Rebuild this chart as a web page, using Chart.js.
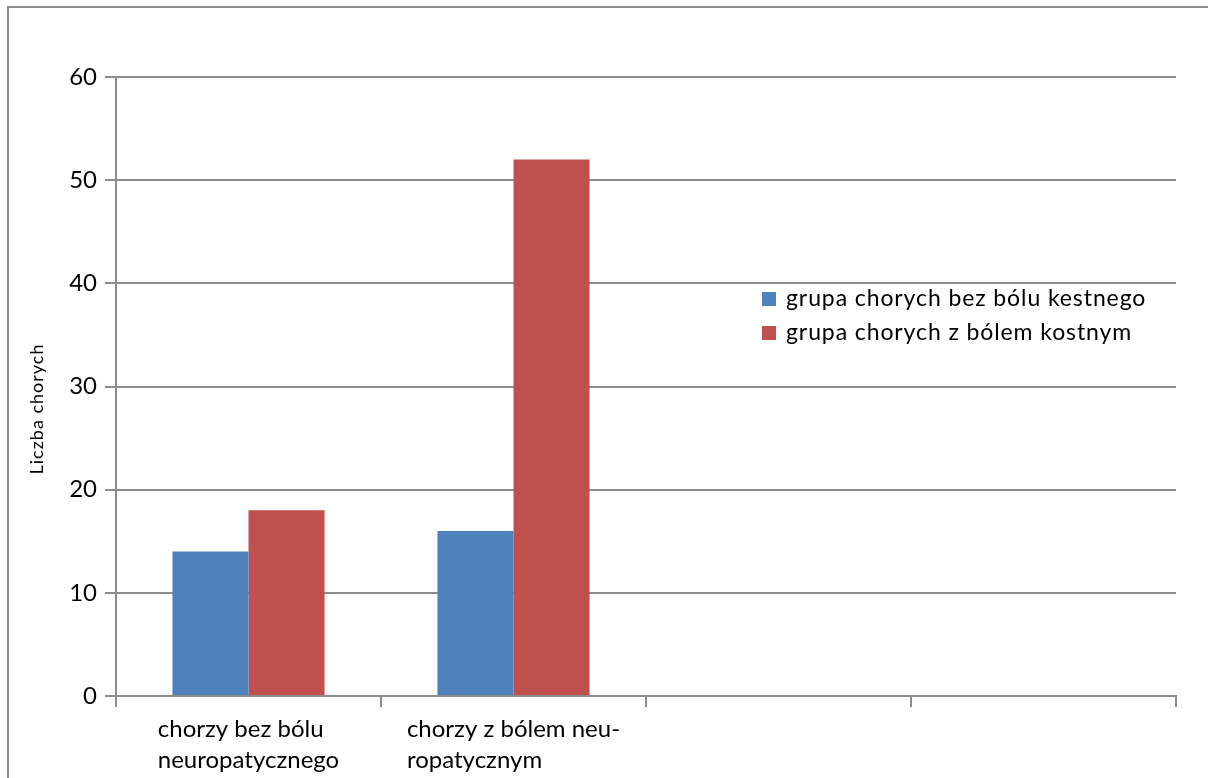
<!DOCTYPE html>
<html>
<head>
<meta charset="utf-8">
<script src="https://cdn.jsdelivr.net/npm/chart.js@4"></script>
<style>
  body { margin: 0; background: #fff; }
  #wrap { position: relative; width: 1208px; height: 778px; }
  #frame {
    position: absolute; left: 7px; top: 6px; width: 1220px; height: 800px;
    border: 2px solid #8c8c8c; pointer-events: none;
  }
</style>
</head>
<body>
<div id="wrap">
  <canvas id="chart" width="1208" height="778"></canvas>
  <div id="frame"></div>
</div>
<script>
/* DATA */
const categories = [
  ["chorzy bez bólu", "neuropatycznego"],
  ["chorzy z bólem neu-", "ropatycznym"],
  "",
  ""
];
const seriesNames = ["grupa chorych bez bólu kestnego", "grupa chorych z bólem kostnym"];
const noBonePain = [14, 16, null, null];
const bonePain = [18, 52, null, null];
const yTicks = [0, 10, 20, 30, 40, 50, 60];

const FONT = "Lato, 'Open Sans', sans-serif";
const GRID = "#8c8c8c";

/* CUSTOM TEXT: x labels (left-aligned block), y title, legend */
const extras = {
  id: "extras",
  afterDraw(chart) {
    const ctx = chart.ctx;
    const x = chart.scales.x;
    const area = chart.chartArea;
    ctx.save();
    ctx.fillStyle = "#000";

    // category labels
    ctx.font = "24px " + FONT;
    ctx.textBaseline = "middle";
    ctx.textAlign = "left";
    categories.forEach((lab, i) => {
      const lines = Array.isArray(lab) ? lab : [lab];
      const w = Math.max(...lines.map(l => ctx.measureText(l).width));
      const cx = x.getPixelForValue(i);
      lines.forEach((l, j) => ctx.fillText(l, cx - w / 2, area.bottom + 33 + j * 31));
    });

    // y axis title
    ctx.font = "18px " + FONT;
    ctx.letterSpacing = "1px";
    ctx.textAlign = "center";
    ctx.translate(37, 409);
    ctx.rotate(-Math.PI / 2);
    ctx.fillText("Liczba chorych", 0, 0);
    ctx.setTransform(1, 0, 0, 1, 0, 0);

    // legend
    ctx.font = "23px " + FONT;
    ctx.letterSpacing = "0.9px";
    ctx.textAlign = "left";
    chart.data.datasets.forEach((ds, i) => {
      const y = 299 + i * 34;
      ctx.fillStyle = ds.backgroundColor;
      ctx.fillRect(762, y - 7, 14, 14);
      ctx.fillStyle = "#000";
      ctx.fillText(ds.label, 786, y);
    });
    ctx.restore();
  }
};

/* RENDER CHART */
new Chart(document.getElementById("chart"), {
  type: "bar",
  data: {
    labels: categories,
    datasets: [
      { label: seriesNames[0], data: noBonePain, backgroundColor: "#4f81bd" },
      { label: seriesNames[1], data: bonePain, backgroundColor: "#c0504d" }
    ]
  },
  options: {
    responsive: false,
    animation: false,
    layout: { padding: { top: 77, right: 32, left: 0, bottom: 0 } },
    datasets: { bar: { categoryPercentage: 0.574, barPercentage: 1 } },
    plugins: { legend: { display: false }, tooltip: { enabled: false } },
    scales: {
      x: {
        afterFit: s => { s.height = 82; },
        ticks: { display: false },
        grid: { drawOnChartArea: false, offset: true, color: GRID, lineWidth: 2, tickLength: 11 },
        border: { color: GRID, width: 2 }
      },
      y: {
        min: yTicks[0],
        max: yTicks[yTicks.length - 1],
        afterFit: s => { s.width = 116; },
        afterBuildTicks: s => { s.ticks = yTicks.map(v => ({ value: v })); },
        ticks: { color: "#000", font: { family: FONT, size: 24 }, padding: 8 },
        grid: { color: GRID, lineWidth: 2, tickLength: 11 },
        border: { color: GRID, width: 2 }
      }
    }
  },
  plugins: [extras]
});
</script>
</body>
</html>
